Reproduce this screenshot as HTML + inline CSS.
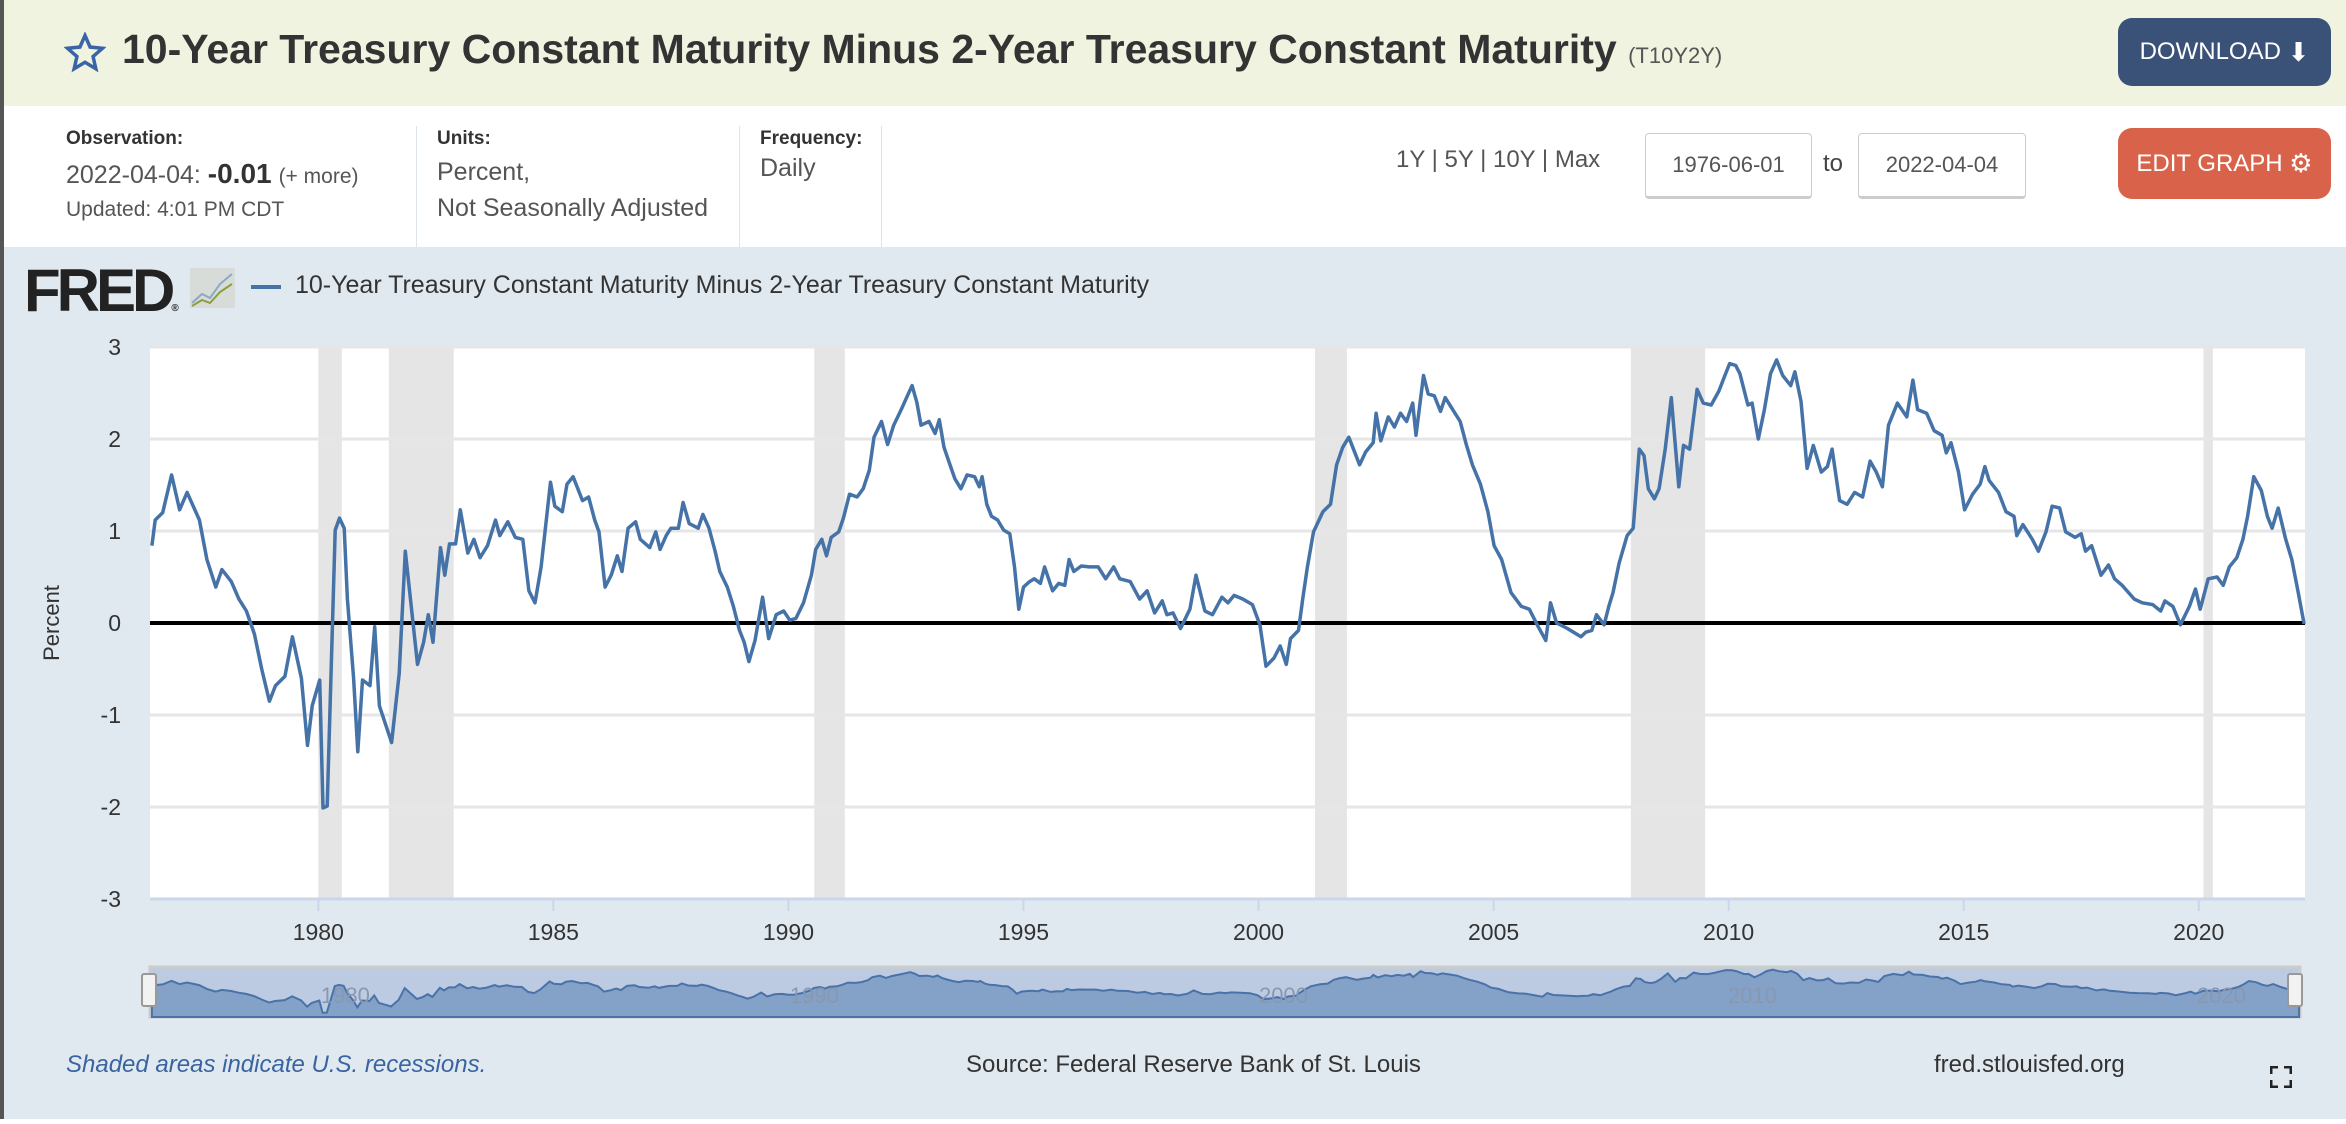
<!DOCTYPE html>
<html><head><meta charset="utf-8">
<style>
*{box-sizing:border-box;margin:0;padding:0}
body{width:2346px;height:1124px;overflow:hidden;background:#fff;font-family:"Liberation Sans",sans-serif;position:relative;color:#333}
.abs{position:absolute}
#hdr{left:0;top:0;width:2346px;height:106px;background:#f0f3df;border-left:4px solid #555}
#info{left:0;top:106px;width:2346px;height:141px;background:#fff;border-left:4px solid #555}
#chartbg{left:0;top:247px;width:2346px;height:872px;background:#e1e9f0;border-left:4px solid #555}
.lbl{font-size:19px;font-weight:bold;color:#333}
.val{font-size:25px;color:#555}
.sep{width:1px;background:#dde4ea;top:126px;height:121px}
.btn{border-radius:14px;color:#fff;font-size:24px;display:flex;align-items:center;justify-content:center}
.datebox{border:1px solid #ccc;border-bottom:3px solid #ccc;border-radius:4px;font-size:22px;color:#555;display:flex;align-items:center;justify-content:center;background:#fff}
</style></head><body>
<div id="hdr" class="abs"></div>
<svg class="abs" style="left:64px;top:32px" width="42" height="42" viewBox="0 0 24 24"><polygon points="12,2 14.9,8.6 22,9.3 16.6,14 18.2,21 12,17.3 5.8,21 7.4,14 2,9.3 9.1,8.6" fill="none" stroke="#3a64a8" stroke-width="2"/></svg>
<div class="abs" style="left:122px;top:26px;font-size:41px;font-weight:bold;color:#333;white-space:nowrap">10-Year Treasury Constant Maturity Minus 2-Year Treasury Constant Maturity <span style="font-size:22px;font-weight:normal;color:#555">(T10Y2Y)</span></div>
<div class="abs btn" style="left:2118px;top:18px;width:213px;height:68px;background:#3a5277">DOWNLOAD&nbsp;<span style="font-size:26px">⬇</span></div>

<div id="info" class="abs"></div>
<div class="abs lbl" style="left:66px;top:128px">Observation:</div>
<div class="abs val" style="left:66px;top:158px">2022-04-04: <b style="font-size:28px;color:#333">-0.01</b> <span style="font-size:21px">(+ more)</span></div>
<div class="abs" style="left:66px;top:198px;font-size:21px;color:#555">Updated: 4:01 PM CDT</div>
<div class="abs sep" style="left:416px"></div>
<div class="abs lbl" style="left:437px;top:128px">Units:</div>
<div class="abs val" style="left:437px;top:154px;line-height:36px">Percent,<br>Not Seasonally Adjusted</div>
<div class="abs sep" style="left:739px"></div>
<div class="abs lbl" style="left:760px;top:128px">Frequency:</div>
<div class="abs val" style="left:760px;top:154px">Daily</div>
<div class="abs sep" style="left:881px"></div>
<div class="abs" style="left:1396px;top:146px;font-size:24px;color:#555">1Y | 5Y | 10Y | Max</div>
<div class="abs datebox" style="left:1645px;top:133px;width:167px;height:66px">1976-06-01</div>
<div class="abs" style="left:1823px;top:150px;font-size:24px;color:#444">to</div>
<div class="abs datebox" style="left:1858px;top:133px;width:168px;height:66px">2022-04-04</div>
<div class="abs btn" style="left:2118px;top:128px;width:213px;height:71px;background:#d9634a">EDIT GRAPH&nbsp;<span style="font-size:26px">⚙</span></div>

<div id="chartbg" class="abs"></div>
<div class="abs" style="left:24px;top:256px;font-size:60px;font-weight:900;letter-spacing:-4px;color:#222;font-family:'Liberation Sans',sans-serif">FRED<span style="font-size:10px;letter-spacing:0">®</span></div>
<svg class="abs" style="left:190px;top:268px" width="45" height="40"><rect width="45" height="40" fill="#d8dcd8"/><polyline points="2,35 12,26 20,30 30,16 42,6" fill="none" stroke="#8aa8c8" stroke-width="2"/><polyline points="2,38 12,32 20,35 30,24 42,16" fill="none" stroke="#8a9f3a" stroke-width="2"/></svg>
<div class="abs" style="left:251px;top:285px;width:30px;height:4px;background:#4572a7"></div>
<div class="abs" style="left:295px;top:271px;font-size:25px;color:#333">10-Year Treasury Constant Maturity Minus 2-Year Treasury Constant Maturity</div>

<svg id="chart" class="abs" style="left:0;top:0" width="2346" height="1124"></svg>

<div class="abs" style="left:66px;top:1051px;font-size:24px;font-style:italic;color:#3a64a0">Shaded areas indicate U.S. recessions.</div>
<div class="abs" style="left:966px;top:1051px;font-size:24px;color:#333">Source: Federal Reserve Bank of St. Louis</div>
<div class="abs" style="left:1934px;top:1051px;font-size:24px;color:#333">fred.stlouisfed.org</div>
<svg class="abs" style="left:2270px;top:1066px" width="22" height="22"><path d="M1 8V1h7M14 1h7v7M21 14v7h-7M8 21H1v-7" fill="none" stroke="#222" stroke-width="3"/></svg>

<script>
const years=[1976.46,1976.53,1976.69,1976.88,1977.05,1977.21,1977.47,1977.63,1977.82,1977.95,1978.15,1978.31,1978.47,1978.64,1978.80,1978.96,1979.09,1979.29,1979.45,1979.64,1979.77,1979.87,1980.03,1980.10,1980.19,1980.36,1980.45,1980.55,1980.62,1980.75,1980.84,1980.94,1981.10,1981.20,1981.30,1981.56,1981.72,1981.85,1982.11,1982.24,1982.34,1982.44,1982.60,1982.69,1982.79,1982.92,1983.02,1983.18,1983.31,1983.44,1983.60,1983.77,1983.86,1984.03,1984.19,1984.35,1984.48,1984.61,1984.74,1984.94,1985.03,1985.19,1985.29,1985.42,1985.62,1985.75,1985.88,1985.97,1986.10,1986.23,1986.36,1986.46,1986.59,1986.75,1986.85,1987.05,1987.18,1987.27,1987.40,1987.50,1987.66,1987.76,1987.89,1988.08,1988.18,1988.31,1988.44,1988.54,1988.70,1988.83,1988.96,1989.06,1989.16,1989.29,1989.45,1989.58,1989.74,1989.90,1990.03,1990.16,1990.32,1990.49,1990.58,1990.71,1990.81,1990.91,1991.07,1991.17,1991.30,1991.46,1991.59,1991.72,1991.82,1991.98,1992.11,1992.24,1992.40,1992.53,1992.63,1992.73,1992.82,1992.99,1993.12,1993.21,1993.31,1993.41,1993.54,1993.67,1993.80,1993.96,1994.06,1994.12,1994.22,1994.32,1994.45,1994.58,1994.71,1994.81,1994.90,1995.00,1995.13,1995.23,1995.36,1995.45,1995.62,1995.75,1995.88,1995.97,1996.07,1996.23,1996.40,1996.59,1996.75,1996.92,1997.05,1997.27,1997.47,1997.63,1997.79,1997.95,1998.05,1998.18,1998.34,1998.54,1998.67,1998.86,1999.02,1999.22,1999.35,1999.48,1999.67,1999.87,2000.03,2000.16,2000.33,2000.46,2000.59,2000.68,2000.85,2000.94,2001.04,2001.17,2001.37,2001.53,2001.66,2001.79,2001.92,2002.15,2002.28,2002.44,2002.50,2002.60,2002.76,2002.89,2003.02,2003.15,2003.28,2003.35,2003.51,2003.61,2003.74,2003.87,2003.97,2004.13,2004.29,2004.42,2004.55,2004.72,2004.88,2005.01,2005.17,2005.37,2005.59,2005.76,2005.95,2006.11,2006.21,2006.34,2006.57,2006.86,2006.96,2007.09,2007.19,2007.35,2007.45,2007.54,2007.67,2007.84,2007.97,2008.10,2008.20,2008.29,2008.42,2008.52,2008.65,2008.78,2008.94,2009.04,2009.17,2009.33,2009.46,2009.63,2009.79,2009.92,2010.02,2010.15,2010.24,2010.41,2010.50,2010.63,2010.76,2010.89,2011.02,2011.15,2011.32,2011.41,2011.54,2011.67,2011.80,2011.97,2012.10,2012.20,2012.36,2012.52,2012.68,2012.85,2013.01,2013.14,2013.27,2013.40,2013.59,2013.79,2013.92,2014.02,2014.21,2014.37,2014.54,2014.63,2014.73,2014.89,2015.02,2015.19,2015.35,2015.45,2015.54,2015.74,2015.90,2016.07,2016.13,2016.26,2016.46,2016.59,2016.75,2016.88,2017.04,2017.17,2017.37,2017.50,2017.59,2017.72,2017.92,2018.08,2018.21,2018.37,2018.63,2018.80,2019.02,2019.19,2019.28,2019.45,2019.61,2019.80,2019.93,2020.03,2020.20,2020.39,2020.52,2020.65,2020.81,2020.94,2021.04,2021.17,2021.33,2021.46,2021.56,2021.69,2021.85,2021.98,2022.11,2022.24];
const values=[0.84,1.12,1.2,1.61,1.23,1.42,1.12,0.69,0.39,0.58,0.45,0.26,0.13,-0.12,-0.51,-0.85,-0.68,-0.58,-0.15,-0.6,-1.33,-0.9,-0.62,-2.01,-1.99,1.01,1.14,1.03,0.26,-0.6,-1.40,-0.62,-0.68,-0.04,-0.9,-1.30,-0.55,0.78,-0.45,-0.21,0.09,-0.21,0.82,0.52,0.86,0.86,1.23,0.76,0.91,0.71,0.84,1.12,0.95,1.10,0.93,0.91,0.35,0.22,0.61,1.53,1.27,1.21,1.51,1.59,1.33,1.37,1.12,0.99,0.39,0.52,0.73,0.56,1.03,1.10,0.91,0.82,0.99,0.8,0.95,1.03,1.03,1.31,1.08,1.03,1.18,1.03,0.78,0.56,0.39,0.18,-0.08,-0.21,-0.42,-0.19,0.28,-0.17,0.09,0.13,0.03,0.05,0.22,0.52,0.80,0.91,0.73,0.93,0.99,1.14,1.40,1.37,1.46,1.66,2.02,2.19,1.94,2.15,2.32,2.47,2.58,2.40,2.15,2.19,2.06,2.21,1.91,1.76,1.57,1.46,1.61,1.59,1.48,1.59,1.29,1.16,1.12,1.01,0.97,0.61,0.15,0.39,0.45,0.48,0.43,0.61,0.35,0.43,0.41,0.69,0.56,0.62,0.61,0.61,0.48,0.61,0.48,0.45,0.26,0.35,0.11,0.24,0.09,0.11,-0.06,0.15,0.52,0.13,0.09,0.28,0.22,0.30,0.26,0.20,-0.02,-0.47,-0.38,-0.25,-0.45,-0.17,-0.08,0.26,0.61,0.99,1.21,1.29,1.72,1.91,2.02,1.72,1.86,1.96,2.28,1.98,2.24,2.13,2.28,2.19,2.39,2.04,2.69,2.49,2.47,2.30,2.45,2.32,2.19,1.94,1.72,1.51,1.21,0.84,0.69,0.33,0.18,0.15,-0.04,-0.19,0.22,0.00,-0.06,-0.15,-0.10,-0.08,0.09,-0.02,0.18,0.33,0.65,0.95,1.03,1.89,1.82,1.46,1.35,1.46,1.89,2.45,1.48,1.93,1.89,2.54,2.39,2.37,2.52,2.69,2.82,2.80,2.71,2.37,2.39,2.00,2.32,2.71,2.86,2.69,2.58,2.73,2.41,1.68,1.93,1.64,1.70,1.89,1.33,1.29,1.42,1.37,1.76,1.64,1.48,2.15,2.39,2.24,2.64,2.32,2.28,2.09,2.04,1.85,1.96,1.64,1.23,1.40,1.51,1.70,1.55,1.42,1.21,1.16,0.95,1.07,0.91,0.78,0.99,1.27,1.25,0.99,0.93,0.97,0.78,0.84,0.52,0.63,0.48,0.41,0.26,0.22,0.20,0.13,0.24,0.18,-0.02,0.18,0.37,0.15,0.48,0.50,0.41,0.61,0.71,0.91,1.16,1.59,1.44,1.16,1.03,1.25,0.91,0.69,0.35,-0.01];
const recStart=[1980.0,1981.5,1990.55,2001.2,2007.92,2020.1];
const recEnd=[1980.5,1982.88,1991.2,2001.88,2009.5,2020.3];
const yTicks=[3,2,1,0,-1,-2,-3];
const xTicks=[1980,1985,1990,1995,2000,2005,2010,2015,2020];
const navTicks=[1980,1990,2000,2010,2020];

const NS='http://www.w3.org/2000/svg';
const svg=document.getElementById('chart');
const L=150,R=2305,T=347,B=899,X0=1976.42,X1=2022.26;
const xs=v=>L+(v-X0)/(X1-X0)*(R-L);
const ys=v=>T+(3-v)/6*(B-T);
const NL=150,NR=2300,NT=967,NB=1017;
const nx=v=>NL+(v-X0)/(X1-X0)*(NR-NL);
const ny=v=>995-v*8.83;
function mk(tag,attrs,parent){const e=document.createElementNS(NS,tag);for(const k in attrs)e.setAttribute(k,attrs[k]);(parent||svg).appendChild(e);return e;}

const plot=mk('rect',{x:L,y:T,width:R-L,height:B-T,fill:'#fff'});


recStart.forEach((s,i)=>{
  const r=mk('rect',{x:xs(s),y:T,width:xs(recEnd[i])-xs(s),height:B-T,fill:'#e5e5e5'});
  
  
});
yTicks.forEach(t=>{
  if(t!==0&&t!==-3){const g=mk('line',{x1:L,x2:R,y1:ys(t),y2:ys(t),stroke:'#e6e6e6','stroke-width':3});
  
  }
  const tx=mk('text',{x:121,y:ys(t)+8,'text-anchor':'end','font-size':23,fill:'#333','font-family':'Liberation Sans, sans-serif'});
  tx.textContent=t;
  
  
});
const ax=mk('line',{x1:L,x2:R,y1:B,y2:B,stroke:'#ccd6eb','stroke-width':3});


xTicks.forEach(t=>{
  const tk=mk('line',{x1:xs(t),x2:xs(t),y1:B,y2:B+12,stroke:'#ccd6eb','stroke-width':2});
  
  
  const tx=mk('text',{x:xs(t),y:940,'text-anchor':'middle','font-size':23,fill:'#333','font-family':'Liberation Sans, sans-serif'});
  tx.textContent=t;
  
  
});
const yt=mk('text',{x:0,y:0,transform:'translate(59,623) rotate(-90)','text-anchor':'middle','font-size':22,fill:'#333','font-family':'Liberation Sans, sans-serif'});
yt.textContent='Percent';


const zl=mk('line',{x1:L,x2:R,y1:ys(0),y2:ys(0),stroke:'#000','stroke-width':4});


const pts=years.map((y,i)=>xs(y).toFixed(1)+','+ys(values[i]).toFixed(1)).join(' ');
const ln=mk('polyline',{points:pts,fill:'none',stroke:'#4572a7','stroke-width':3.5,'stroke-linejoin':'round'});



const nbg=mk('rect',{x:NL,y:NT,width:NR-NL,height:NB-NT,fill:'#bccbe1',stroke:'#ccc','stroke-width':3});


const npts=years.map((y,i)=>nx(y).toFixed(1)+','+ny(values[i]).toFixed(1));
const na=mk('polygon',{points:nx(years[0])+','+NB+' '+npts.join(' ')+' '+nx(years[years.length-1])+','+NB,fill:'#84a1c8',stroke:'#4a72a8','stroke-width':2});


navTicks.forEach(t=>{
  const tx=mk('text',{x:nx(t)+3,y:1003,'font-size':22,fill:'#8898b0','font-family':'Liberation Sans, sans-serif'});
  tx.textContent=t;
  
  
});
[NL-3,NR-7].forEach(x=>{
  const h=mk('rect',{x:x-5,y:974,width:14,height:32,fill:'#f2f2f2',stroke:'#999','stroke-width':2,rx:2});
  
  
});
</script>
</body></html>
